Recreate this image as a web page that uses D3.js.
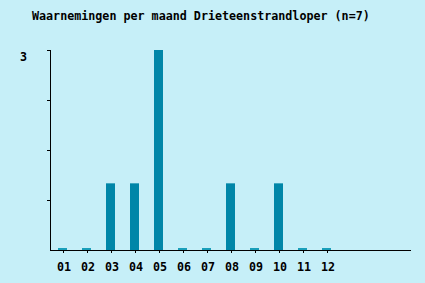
<!DOCTYPE html>
<html><head><meta charset="utf-8">
<script src="https://cdn.jsdelivr.net/npm/d3@7"></script>
<style>
html,body{margin:0;padding:0;background:#c6eff8;}
svg{display:block;}
text{font-family:"DejaVu Sans Mono",monospace;font-weight:bold;font-size:11.7px;fill:#000;}
</style></head>
<body><svg id="c" width="425" height="283"></svg>
<script>
const title = "Waarnemingen per maand Drieteenstrandloper (n=7)";
const months = ["01","02","03","04","05","06","07","08","09","10","11","12"];
const counts = [0,0,1,1,3,0,0,1,0,1,0,0];
const yTicks = [0.75,1.5,2.25,3];
const yLabels = {3:"3"};

const svg = d3.select("#c");
svg.append("rect").attr("width",425).attr("height",283).attr("fill","#c6eff8");

const x = d3.scaleBand().domain(months).range([50.5,338.5]).paddingInner(0.625).paddingOuter(0.3125);
const y = d3.scaleLinear().domain([0,3]).range([250,50]);

svg.append("text").attr("x",32).attr("y",20).text(title);

// bars
svg.selectAll("rect.bar").data(counts).join("rect")
  .attr("class","bar")
  .attr("x",(d,i)=>x(months[i]))
  .attr("width",x.bandwidth())
  .attr("y",d=> d===0 ? y(0)-2 : y(d))
  .attr("height",d=> d===0 ? 2 : y(0)-y(d))
  .attr("fill",d=> d===0 ? "#1a9fba" : "#0086a8");

// y axis
svg.append("line").attr("x1",50.5).attr("x2",50.5).attr("y1",y(3)).attr("y2",y(0)).attr("stroke","#000");
svg.selectAll("line.yt").data(yTicks).join("line").attr("class","yt")
  .attr("x1",47).attr("x2",50).attr("y1",d=>Math.round(y(d))+0.5).attr("y2",d=>Math.round(y(d))+0.5).attr("stroke","#000");
svg.selectAll("text.yl").data(yTicks.filter(d=>yLabels[d])).join("text").attr("class","yl")
  .attr("x",27).attr("y",d=>y(d)+11).attr("text-anchor","end").text(d=>yLabels[d]);

// x axis
svg.append("line").attr("x1",50).attr("x2",411).attr("y1",250.5).attr("y2",250.5).attr("stroke","#000");
svg.selectAll("line.xt").data(months).join("line").attr("class","xt")
  .attr("x1",d=>Math.round(x(d)+x.bandwidth()/2)+0.5).attr("x2",d=>Math.round(x(d)+x.bandwidth()/2)+0.5)
  .attr("y1",250).attr("y2",253).attr("stroke","#000");
svg.selectAll("text.xl").data(months).join("text").attr("class","xl")
  .attr("x",d=>x(d)+x.bandwidth()/2+1.5).attr("y",271).attr("text-anchor","middle").text(d=>d);
</script></body></html>
